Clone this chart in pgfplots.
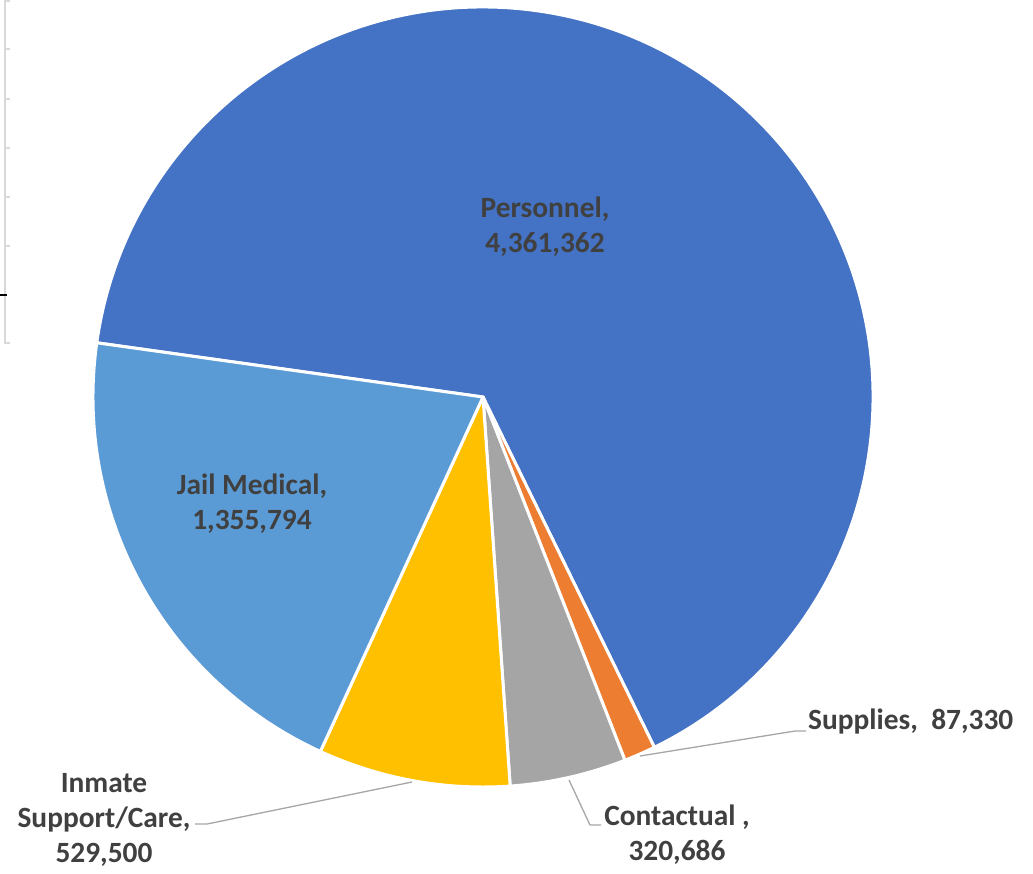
\documentclass[border=0pt]{standalone}
\usepackage{pgfplots}
\usepackage{pgfplotstable}
\pgfplotsset{compat=1.18}
\usepackage{fontspec}
\setmainfont{Carlito}

\definecolor{cPers}{HTML}{4472C4}
\definecolor{cSup}{HTML}{ED7D31}
\definecolor{cCon}{HTML}{A5A5A5}
\definecolor{cInm}{HTML}{FFC000}
\definecolor{cJail}{HTML}{5B9BD5}
\definecolor{lbl}{HTML}{404040}
\definecolor{lead}{HTML}{A6A6A6}
\definecolor{grid}{HTML}{D9D9D9}

% slices in clockwise order, starting at 172 deg
\pgfplotstableread[col sep=comma]{
name,value,col
Personnel,4361362,cPers
Supplies,87330,cSup
Contactual,320686,cCon
Inmate Support/Care,529500,cInm
Jail Medical,1355794,cJail
}\piedata

\pgfkeys{/pgf/number format/.cd, fixed, precision=0, 1000 sep={,}, assume math mode=true}
\newcommand\pv[1]{\pgfmathprintnumber{\csname pieV#1\endcsname}}

\begin{document}
\begin{tikzpicture}
% total of all slices
\def\pietotal{0}
\pgfplotsforeachungrouped \i in {0,...,4}{%
  \pgfplotstablegetelem{\i}{value}\of\piedata
  \pgfkeys{/pgf/fpu=true,/pgf/fpu/output format=fixed}%
  \pgfmathparse{\pietotal+\pgfplotsretval}%
  \xdef\pietotal{\pgfmathresult}%
  \pgfkeys{/pgf/fpu=false}%
}
% start / end angle, colour and value of each slice
\def\ang{172}
\pgfplotsforeachungrouped \i in {0,...,4}{%
  \pgfplotstablegetelem{\i}{value}\of\piedata
  \expandafter\xdef\csname pieV\i\endcsname{\pgfplotsretval}%
  \pgfkeys{/pgf/fpu=true,/pgf/fpu/output format=fixed}%
  \pgfmathparse{\ang-360*\pgfplotsretval/\pietotal}%
  \let\newang\pgfmathresult
  \pgfkeys{/pgf/fpu=false}%
  \expandafter\xdef\csname pieA\i\endcsname{\ang}%
  \expandafter\xdef\csname pieB\i\endcsname{\newang}%
  \pgfplotstablegetelem{\i}{col}\of\piedata
  \expandafter\xdef\csname pieC\i\endcsname{\pgfplotsretval}%
  \xdef\ang{\newang}%
}
\tikzset{lab/.style={font=\bfseries\fontsize{29.5}{35}\selectfont, text=lbl, align=center, inner sep=0pt}}
\begin{axis}[
    scale only axis, width=1033bp, height=873bp,
    xmin=0, xmax=1033, ymin=0, ymax=873, y dir=reverse,
    hide axis, clip=false]
  % leftover gridlines of a neighbouring chart
  \draw[grid, line width=2.5bp] (axis cs:5,0) -- (axis cs:5,343);
  \pgfplotsinvokeforeach{1,49,99,148,197,246,343}{
    \draw[grid, line width=2.5bp] (axis cs:4,#1) -- (axis cs:10,#1);
  }
  \draw[black, line width=2bp] (axis cs:0,295) -- (axis cs:7,295);
  % slices
  \pgfplotsforeachungrouped \i in {0,...,4}{%
    \edef\tmp{\noexpand\fill[\csname pieC\i\endcsname, draw=white, line width=3bp, line join=round]
      (axis cs:483,397) -- ++(\csname pieA\i\endcsname:390bp)
      arc[start angle=\csname pieA\i\endcsname, end angle=\csname pieB\i\endcsname, radius=390bp] -- cycle;}%
    \tmp
  }
  % leader lines
  \draw[lead, line width=1.3bp] (axis cs:640,756) -- (axis cs:795,731) -- (axis cs:806,731);
  \draw[lead, line width=1.3bp] (axis cs:569,780) -- (axis cs:590,825) -- (axis cs:601,825);
  \draw[lead, line width=1.3bp] (axis cs:412,782) -- (axis cs:207,824) -- (axis cs:195,824);
  % labels
  \node[lab] at (axis cs:545,227) {Personnel,\\\pv{0}};
  \node[lab] at (axis cs:252,504) {Jail Medical,\\\pv{4}};
  \node[lab, anchor=west] at (axis cs:808,721) {Supplies,\ \ \pv{1}};
  \node[lab] at (axis cs:677,835) {Contactual ,\\\pv{2}};
  \node[lab] at (axis cs:104,820) {Inmate\\Support/Care,\\\pv{3}};
\end{axis}
\pgfresetboundingbox
\path[use as bounding box] (current axis.south west) rectangle (current axis.north east);
\end{tikzpicture}
\end{document}
